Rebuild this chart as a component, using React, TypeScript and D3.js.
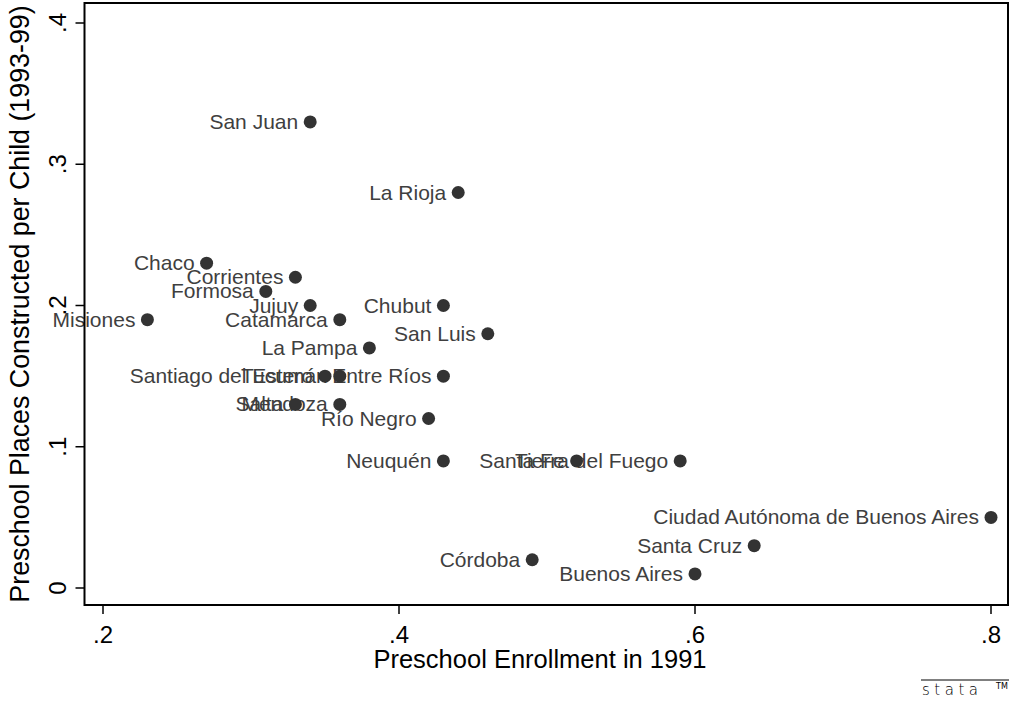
import React from "react";
import * as d3 from "d3";

// provinces (enrollment 1991, places per child 1993-99)
const provinces = [
  "San Juan", "La Rioja", "Chaco", "Corrientes", "Formosa", "Jujuy", "Chubut",
  "Misiones", "Catamarca", "San Luis", "La Pampa", "Santiago del Estero",
  "Tucumán", "Entre Ríos", "Salta", "Mendoza", "Río Negro", "Neuquén",
  "Santa Fe", "Tierra del Fuego", "Ciudad Autónoma de Buenos Aires",
  "Santa Cruz", "Córdoba", "Buenos Aires",
];
const enrollment = [
  0.34, 0.44, 0.27, 0.33, 0.31, 0.34, 0.43,
  0.23, 0.36, 0.46, 0.38, 0.35,
  0.36, 0.43, 0.33, 0.36, 0.42, 0.43,
  0.52, 0.59, 0.80,
  0.64, 0.49, 0.60,
];
const placesPerChild = [
  0.33, 0.28, 0.23, 0.22, 0.21, 0.20, 0.20,
  0.19, 0.19, 0.18, 0.17, 0.15,
  0.15, 0.15, 0.13, 0.13, 0.12, 0.09,
  0.09, 0.09, 0.05,
  0.03, 0.02, 0.01,
];
const xTicks = [0.2, 0.4, 0.6, 0.8];
const yTicks = [0, 0.1, 0.2, 0.3, 0.4];

const W = 1028;
const H = 710;
const frame = { left: 84.5, right: 1008, top: 3, bottom: 605 };
const font = "'Liberation Sans', Arial, Helvetica, sans-serif";

// stata style tick labels: ".2" instead of "0.2"
const fmt = (v: number) => (v === 0 ? "0" : d3.format(".1f")(v).replace(/^0/, ""));

export default function App() {
  const x = d3.scaleLinear().domain([0.2, 0.8]).range([103, 991]);
  const y = d3.scaleLinear().domain([0, 0.4]).range([588, 23]);

  const points = provinces.map((name, i) => ({ name, ex: enrollment[i], py: placesPerChild[i] }));

  return (
    <svg width={W} height={H} style={{ position: "absolute", left: 0, top: 0, background: "#fff" }} fontFamily={font}>
      <rect x={0} y={0} width={W} height={H} fill="#fff" />

      {/* labels first, markers on top */}
      <g fill="#3f3f3f" fontSize={21} textAnchor="end">
        {points.map(d => (
          <text key={d.name} x={x(d.ex) - 12} y={y(d.py) + 7}>{d.name}</text>
        ))}
      </g>
      <g fill="#333">
        {points.map(d => (
          <circle key={d.name} cx={x(d.ex)} cy={y(d.py)} r={6.5} />
        ))}
      </g>

      {/* plot region border */}
      <rect x={frame.left} y={frame.top} width={frame.right - frame.left} height={frame.bottom - frame.top}
        fill="none" stroke="#000" strokeWidth={2} />

      {/* x axis */}
      <g>
        {xTicks.map(t => (
          <g key={t}>
            <line x1={x(t)} x2={x(t)} y1={frame.bottom} y2={frame.bottom + 9} stroke="#000" strokeWidth={1.5} />
            <text x={x(t)} y={643} textAnchor="middle" fontSize={24} fill="#000">{fmt(t)}</text>
          </g>
        ))}
        <text x={540} y={668} textAnchor="middle" fontSize={25.5} fill="#000">Preschool Enrollment in 1991</text>
      </g>

      {/* y axis */}
      <g>
        {yTicks.map(t => (
          <g key={t}>
            <line x1={frame.left - 9} x2={frame.left} y1={y(t)} y2={y(t)} stroke="#000" strokeWidth={1.5} />
            <text transform={`translate(66,${y(t)}) rotate(-90)`} textAnchor="middle" fontSize={24} fill="#000">{fmt(t)}</text>
          </g>
        ))}
        <text transform={`translate(29,304) rotate(-90)`} textAnchor="middle" fontSize={26.8} fill="#000">
          Preschool Places Constructed per Child (1993-99)
        </text>
      </g>

      {/* stata logo */}
      <g>
        <line x1={921} x2={1009} y1={680} y2={680} stroke="#000" strokeWidth={1} />
        <text x={922} y={695} fontSize={15} letterSpacing={4.5} fill="#000" fontFamily="'DejaVu Sans', sans-serif" fontWeight={300}>stata</text>
        <text x={996} y={689} fontSize={8} fill="#000" fontFamily="'DejaVu Sans', sans-serif">TM</text>
      </g>
    </svg>
  );
}
